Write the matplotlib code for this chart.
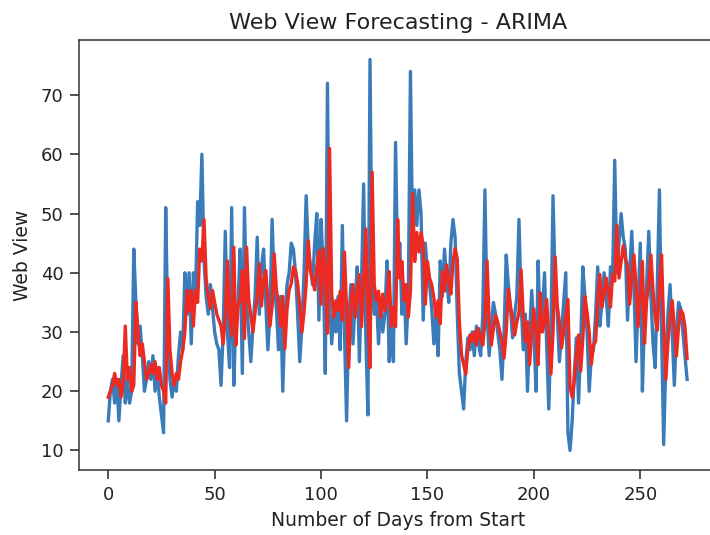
import numpy as np
import matplotlib
matplotlib.use("Agg")
import matplotlib.pyplot as plt

actual = [15, 20, 22, 18, 22, 15, 21, 26, 18, 22, 18, 20, 44, 35, 28, 31, 26, 20, 22, 25,
          22, 26, 20, 24, 19, 16, 13, 51, 30, 22, 19, 22, 20, 26, 30, 27, 40, 33, 40, 28,
          40, 36, 52, 48, 60, 42, 36, 33, 38, 34, 30, 28, 27, 21, 30, 47, 30, 24, 51, 21,
          33, 35, 44, 23, 51, 35, 30, 25, 31, 36, 46, 33, 41, 44, 35, 27, 33, 49, 38, 34,
          27, 36, 20, 32, 38, 40, 45, 44, 40, 33, 25, 31, 40, 53, 44, 41, 38, 45, 50, 32,
          49, 41, 23, 72, 35, 28, 33, 30, 36, 27, 48, 30, 15, 32, 38, 28, 35, 41, 25, 38,
          55, 30, 16, 76, 38, 33, 36, 28, 35, 30, 33, 42, 25, 31, 25, 62, 40, 45, 33, 38,
          28, 36, 74, 45, 54, 48, 54, 50, 32, 45, 40, 38, 34, 28, 33, 26, 42, 36, 44, 39,
          35, 45, 49, 46, 33, 23, 20, 17, 25, 29, 27, 30, 26, 31, 28, 26, 33, 54, 33, 26,
          31, 35, 33, 30, 27, 22, 30, 43, 38, 34, 29, 33, 36, 49, 35, 27, 33, 20, 30, 37,
          30, 20, 42, 30, 33, 40, 28, 17, 30, 53, 38, 33, 25, 30, 35, 40, 13, 10, 15, 23,
          29, 18, 28, 41, 36, 30, 20, 26, 27, 33, 41, 31, 35, 40, 36, 31, 41, 39, 59, 40,
          45, 50, 46, 44, 32, 40, 47, 38, 25, 35, 45, 20, 33, 38, 47, 36, 28, 24, 38, 54,
          30, 11, 25, 33, 38, 30, 21, 30, 35, 34, 30, 26, 22]

predicted = [19, 20, 21, 23, 21, 22, 19, 21, 31, 22, 24, 20, 21, 35, 30, 26, 28, 25, 22, 23,
             24.5, 23, 25, 22, 24, 21, 20, 18, 39, 27, 23, 21, 23, 22, 25, 27, 30, 37, 33.5, 37,
             31, 37, 35, 44, 42, 49, 39, 36, 34, 37, 35, 33, 32, 31, 28, 32.7, 42, 32.7, 29.4, 44.3,
             27.8, 34.4, 35.5, 40.4, 28.9, 44.3, 35.5, 32.7, 30, 33.3, 36, 41.5, 34.4, 38.8, 40.4, 35.5, 31, 34.4, 43.2, 37.1,
             34.9, 31, 36, 27.2, 33.8, 37.1, 38.2, 41, 40.4, 38.2, 34.4, 30, 33.3, 38.2, 45.4, 40.4, 38.8, 37.1, 41, 43.7,
             34.7, 44.1, 39.7, 29.8, 61, 36.4, 32.5, 35.3, 33.6, 36.9, 32, 43.5, 33.6, 24, 34.7, 38, 32.5, 36.4, 39.7, 30.9,
             38, 47.4, 33.6, 24, 57, 38, 35.3, 36.9, 32.5, 36.4, 33.6, 35.3, 40.2, 30.9, 34.2, 30.9, 49, 39.1, 41.9, 35.3,
             38, 32.5, 36.9, 53.4, 41.9, 46.8, 43.5, 46.8, 44.6, 34.7, 41.9, 39.1, 38, 35.8, 32.5, 35.3, 31.4, 40.2, 36.9, 41.3,
             38.6, 36.4, 41.9, 44.1, 42.4, 31.7, 26.2, 24.5, 22.9, 27.3, 29.5, 28.4, 30, 27.8, 30.6, 28.9, 27.8, 31.7, 42, 31.7,
             27.8, 30.6, 32.8, 31.7, 30, 28.4, 25.6, 30, 37.2, 34.4, 32.2, 29.5, 31.7, 33.3, 40.5, 32.8, 28.4, 31.7, 24.5, 30,
             33.9, 30, 24.5, 36.6, 30, 31.7, 35.5, 28.9, 22.9, 30, 42.7, 34.4, 31.7, 27.3, 30, 32.8, 35.5, 20.7, 19, 21.8,
             26.2, 29.5, 23.4, 28.9, 36, 33.3, 30, 24.5, 27.8, 28.4, 35.3, 39.7, 34.2, 36.4, 39.1, 36.9, 34.2, 39.7, 38.6, 48,
             39.1, 41.9, 44.6, 42.4, 41.3, 34.7, 39.1, 43, 38, 30.9, 36.4, 41.9, 28.1, 35.3, 38, 43, 36.9, 32.5, 30.3, 38,
             43, 30.9, 22, 28.2, 32.6, 35.3, 30.9, 25.9, 30.9, 33.7, 33.1, 30.9, 25.5]

days = np.arange(len(actual))

plt.rcParams['font.family'] = 'DejaVu Sans'
plt.rcParams['text.color'] = '#222222'
plt.rcParams['axes.labelcolor'] = '#222222'
plt.rcParams['xtick.color'] = '#222222'
plt.rcParams['ytick.color'] = '#222222'

fig = plt.figure(figsize=(7.1, 5.35), dpi=100)
# the original screenshot is cropped on the right, so the axes run past the edge
ax = fig.add_axes([0.1117, 0.1215, 0.8968, 0.8037])

ax.plot(days, actual, color='#3a7cba', linewidth=2.4)
ax.plot(days, predicted, color='#ec2a22', linewidth=2.4)

ax.set_title('Web View Forecasting - ARIMA', fontsize=16, pad=8)
ax.set_xlabel('Number of Days from Start', fontsize=13.5, labelpad=5)
ax.set_ylabel('Web View', fontsize=13.5, labelpad=6)
ax.set_xticks([0, 50, 100, 150, 200, 250])
ax.set_yticks([10, 20, 30, 40, 50, 60, 70])
ax.tick_params(labelsize=13, length=6.5, width=1.1, pad=5)
for s in ax.spines.values():
    s.set_linewidth(1.1)
    s.set_color('#333333')
ax.spines['right'].set_visible(False)

fig.savefig('out.png', dpi=100)
